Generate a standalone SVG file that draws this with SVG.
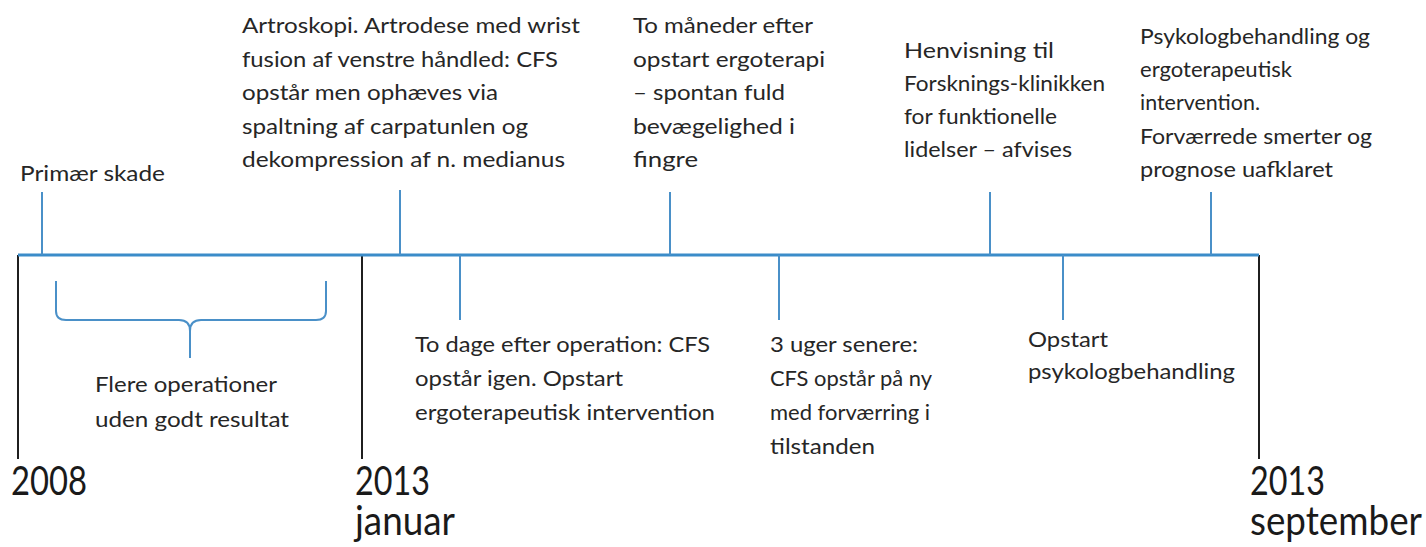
<svg xmlns="http://www.w3.org/2000/svg" width="1426" height="547" viewBox="0 0 1426 547">
<style>
.t{font-family:Lato,"Liberation Sans",sans-serif;font-size:21px;fill:#262626}
.y{font-family:Lato,"Liberation Sans",sans-serif;font-size:40px;fill:#1a1a1a}
.axis{stroke:#3b8cc9;stroke-width:3;fill:none}
.tick{stroke:#4a90c8;stroke-width:2;fill:none}
.edge{stroke:#1f1f1f;stroke-width:2;fill:none}
</style>
<g id="connectors">
<line class="edge" x1="18" y1="255" x2="18" y2="459"/>
<line class="edge" x1="362" y1="255" x2="362" y2="459"/>
<line class="edge" x1="1259" y1="255" x2="1259" y2="459"/>
<line class="axis" x1="18" y1="255" x2="1259" y2="255"/>
<line class="tick" x1="42" y1="192" x2="42" y2="255"/>
<line class="tick" x1="400" y1="190" x2="400" y2="255"/>
<line class="tick" x1="670" y1="192" x2="670" y2="255"/>
<line class="tick" x1="990" y1="192" x2="990" y2="255"/>
<line class="tick" x1="1211" y1="192" x2="1211" y2="255"/>
<line class="tick" x1="460" y1="255" x2="460" y2="320"/>
<line class="tick" x1="779" y1="255" x2="779" y2="320"/>
<line class="tick" x1="1063" y1="255" x2="1063" y2="320"/>
<path class="tick" d="M56,281 V311 Q56,320 66,320 H179 Q190,320 190,331 V358 M190,331 Q190,320 201,320 H316 Q326,320 326,311 V281"/>
</g>
<g id="primaer-skade">
<text class="t" x="20" y="181" textLength="145" lengthAdjust="spacingAndGlyphs">Primær skade</text>
</g>
<g id="artroskopi">
<text class="t" x="242" y="33" textLength="338" lengthAdjust="spacingAndGlyphs">Artroskopi. Artrodese med wrist</text>
<text class="t" x="242" y="66.5" textLength="316" lengthAdjust="spacingAndGlyphs">fusion af venstre håndled: CFS</text>
<text class="t" x="242" y="100" textLength="256" lengthAdjust="spacingAndGlyphs">opstår men ophæves via</text>
<text class="t" x="242" y="133.5" textLength="286" lengthAdjust="spacingAndGlyphs">spaltning af carpatunlen og</text>
<text class="t" x="242" y="167" textLength="323" lengthAdjust="spacingAndGlyphs">dekompression af n. medianus</text>
</g>
<g id="to-maaneder">
<text class="t" x="633" y="33" textLength="180" lengthAdjust="spacingAndGlyphs">To måneder efter</text>
<text class="t" x="633" y="66.5" textLength="192" lengthAdjust="spacingAndGlyphs">opstart ergoterapi</text>
<text class="t" x="633" y="100" textLength="152" lengthAdjust="spacingAndGlyphs">– spontan fuld</text>
<text class="t" x="633" y="133.5" textLength="162" lengthAdjust="spacingAndGlyphs">bevægelighed i</text>
<text class="t" x="633" y="167" textLength="65" lengthAdjust="spacingAndGlyphs">fingre</text>
</g>
<g id="henvisning">
<text class="t" x="904" y="58" textLength="150" lengthAdjust="spacingAndGlyphs">Henvisning til</text>
<text class="t" x="904" y="91" textLength="201" lengthAdjust="spacingAndGlyphs">Forsknings-klinikken</text>
<text class="t" x="904" y="124" textLength="153" lengthAdjust="spacingAndGlyphs">for funktionelle</text>
<text class="t" x="904" y="157" textLength="168" lengthAdjust="spacingAndGlyphs">lidelser – afvises</text>
</g>
<g id="psykolog">
<text class="t" x="1140" y="44" textLength="230" lengthAdjust="spacingAndGlyphs">Psykologbehandling og</text>
<text class="t" x="1140" y="77" textLength="152" lengthAdjust="spacingAndGlyphs">ergoterapeutisk</text>
<text class="t" x="1140" y="110" textLength="120" lengthAdjust="spacingAndGlyphs">intervention.</text>
<text class="t" x="1140" y="144" textLength="232" lengthAdjust="spacingAndGlyphs">Forværrede smerter og</text>
<text class="t" x="1140" y="177" textLength="193" lengthAdjust="spacingAndGlyphs">prognose uafklaret</text>
</g>
<g id="flere-operationer">
<text class="t" x="95" y="392" textLength="182" lengthAdjust="spacingAndGlyphs">Flere operationer</text>
<text class="t" x="95" y="427" textLength="194" lengthAdjust="spacingAndGlyphs">uden godt resultat</text>
</g>
<g id="to-dage">
<text class="t" x="415" y="352" textLength="295" lengthAdjust="spacingAndGlyphs">To dage efter operation: CFS</text>
<text class="t" x="415" y="386" textLength="208" lengthAdjust="spacingAndGlyphs">opstår igen. Opstart</text>
<text class="t" x="415" y="420" textLength="300" lengthAdjust="spacingAndGlyphs">ergoterapeutisk intervention</text>
</g>
<g id="tre-uger">
<text class="t" x="770" y="352" textLength="148" lengthAdjust="spacingAndGlyphs">3 uger senere:</text>
<text class="t" x="770" y="386" textLength="162" lengthAdjust="spacingAndGlyphs">CFS opstår på ny</text>
<text class="t" x="770" y="420" textLength="160" lengthAdjust="spacingAndGlyphs">med forværring i</text>
<text class="t" x="770" y="454" textLength="105" lengthAdjust="spacingAndGlyphs">tilstanden</text>
</g>
<g id="opstart-psykolog">
<text class="t" x="1028" y="347" textLength="80" lengthAdjust="spacingAndGlyphs">Opstart</text>
<text class="t" x="1028" y="379" textLength="207" lengthAdjust="spacingAndGlyphs">psykologbehandling</text>
</g>
<g id="year-2008">
<text class="y" x="11" y="495" textLength="76" lengthAdjust="spacingAndGlyphs">2008</text>
</g>
<g id="year-2013-januar">
<text class="y" x="355" y="495" textLength="75" lengthAdjust="spacingAndGlyphs">2013</text>
<text class="y" x="355" y="535" textLength="100" lengthAdjust="spacingAndGlyphs">januar</text>
</g>
<g id="year-2013-september">
<text class="y" x="1250" y="495" textLength="75" lengthAdjust="spacingAndGlyphs">2013</text>
<text class="y" x="1250" y="535" textLength="172" lengthAdjust="spacingAndGlyphs">september</text>
</g>
</svg>
